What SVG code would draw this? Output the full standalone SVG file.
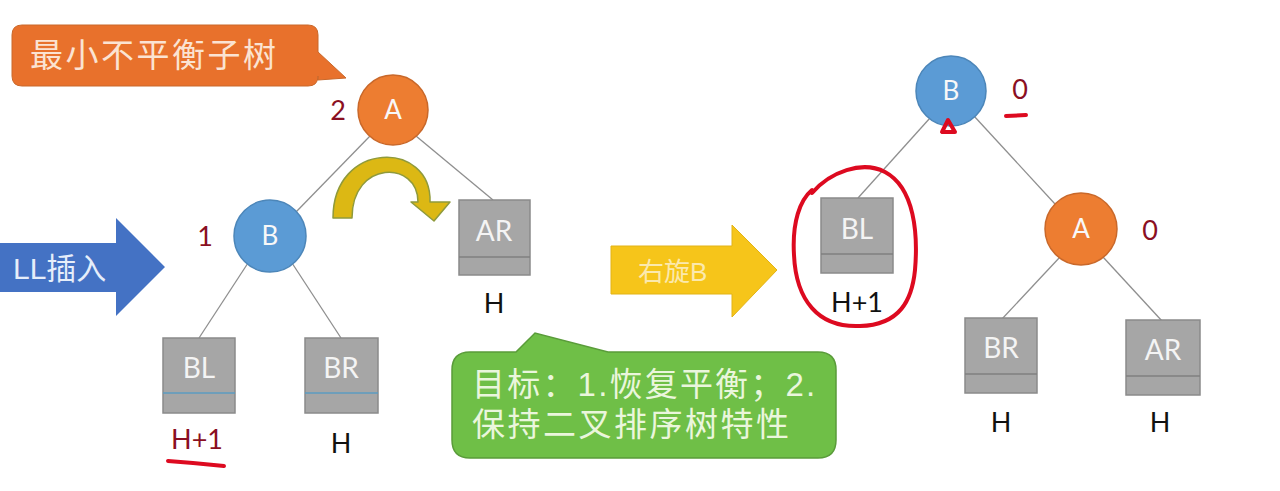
<svg xmlns="http://www.w3.org/2000/svg" width="1280" height="491" viewBox="0 0 1280 491">
  <defs>
    <style>
      .edge { stroke: #8f8f8f; stroke-width: 1.3; fill: none; }
      .box { fill: #a6a6a6; stroke: #8a8a8a; stroke-width: 1.5; }
      .sep { stroke: #7f7f7f; stroke-width: 1.5; }
      .sepb { stroke: #5b9bc0; stroke-width: 1.5; }
      .boxlbl { font-family: Lato, "Liberation Sans", sans-serif; font-size: 28px; fill: #f4f4f4; text-anchor: middle; }
      .nodelbl { font-family: Lato, "Liberation Sans", sans-serif; font-size: 26px; fill: #f8f8f8; text-anchor: middle; }
      .h { font-family: Lato, "Liberation Sans", sans-serif; font-size: 27px; fill: #111; text-anchor: middle; }
      .bf { font-family: Lato, "Liberation Sans", sans-serif; font-size: 27px; fill: #8a0f22; text-anchor: middle; }
      .cjk { font-family: "Liberation Sans", "Noto Sans CJK SC", sans-serif; }
      .orange { fill: #ed7d31; stroke: #c9682a; stroke-width: 1.5; }
      .blue { fill: #5b9bd5; stroke: #4c86b9; stroke-width: 1.5; }
      .ink { stroke: #dd0a20; stroke-width: 4; fill: none; stroke-linecap: round; stroke-linejoin: round; }
    </style>
  </defs>
  <rect width="1280" height="491" fill="#ffffff"/>

  <g id="connectors">
    <line class="edge" x1="370" y1="136" x2="296" y2="212"/>
    <line class="edge" x1="416" y1="136" x2="493" y2="200"/>
    <line class="edge" x1="248" y1="263" x2="199" y2="338"/>
    <line class="edge" x1="292" y1="263" x2="341" y2="338"/>
    <line class="edge" x1="930" y1="118" x2="858" y2="198"/>
    <line class="edge" x1="974" y1="116" x2="1055" y2="204"/>
    <line class="edge" x1="1060" y1="257" x2="1002" y2="319"/>
    <line class="edge" x1="1103" y1="257" x2="1162" y2="321"/>
  </g>

  <g id="callout-min">
    <path d="M22,25 H308 Q318,25 318,35 V52 L346,78 L318,80 V76 Q318,86 308,86 H22 Q12,86 12,76 V35 Q12,25 22,25 Z" fill="#e8712c" stroke="#c9682a" stroke-width="1"/>
    <text class="cjk" x="30" y="67" font-size="33" letter-spacing="2.5" fill="#fbe3d2">最小不平衡子树</text>
  </g>

  <g id="arrow-LL">
    <polygon points="0,243 116,243 116,218 165,267 116,316 116,292 0,292" fill="#4472c4"/>
    <text class="cjk" x="13" y="279" font-size="30" fill="#e6eefa">LL插入</text>
  </g>

  <g id="node-A1">
    <circle class="orange" cx="393" cy="110" r="35"/>
    <text class="nodelbl" x="393" y="119">A</text>
    <text class="bf" x="338" y="120">2</text>
  </g>

  <g id="node-B1">
    <circle class="blue" cx="270" cy="236" r="36"/>
    <text class="nodelbl" x="270" y="245">B</text>
    <text class="bf" x="205" y="246">1</text>
  </g>

  <g id="rotate-arrow">
    <path d="M333,218 C333,140 432,140 430,202 L450,202 L434,221 L411,202 L418,202 C418,160 352,160 352,218 Z" fill="#dcb814" stroke="#8f9a3c" stroke-width="1.5" stroke-linejoin="round"/>
  </g>

  <g id="box-AR1">
    <rect class="box" x="459" y="200" width="71" height="75"/>
    <line class="sep" x1="459" y1="257" x2="530" y2="257"/>
    <text class="boxlbl" x="494" y="241">AR</text>
    <text class="h" x="494" y="313">H</text>
  </g>

  <g id="box-BL1">
    <rect class="box" x="163" y="338" width="72" height="75"/>
    <line class="sepb" x1="163" y1="393" x2="235" y2="393"/>
    <text class="boxlbl" x="199" y="378">BL</text>
    <text class="bf" x="197" y="449">H+1</text>
    <path class="ink" d="M168,461 Q196,463 224,466"/>
  </g>

  <g id="box-BR1">
    <rect class="box" x="305" y="338" width="73" height="75"/>
    <line class="sepb" x1="305" y1="393" x2="378" y2="393"/>
    <text class="boxlbl" x="341" y="378">BR</text>
    <text class="h" x="341" y="453">H</text>
  </g>

  <g id="callout-goal">
    <path d="M470,352 H516 L535,333 L608,352 H818 Q836,352 836,370 V440 Q836,458 818,458 H470 Q452,458 452,440 V370 Q452,352 470,352 Z" fill="#6fbf47" stroke="#5a9c3a" stroke-width="1.5"/>
    <text class="cjk" x="472" y="396" font-size="33" letter-spacing="2.2" fill="#eaf6dc">目标：1.恢复平衡；2.</text>
    <text class="cjk" x="472" y="436" font-size="33" letter-spacing="2.5" fill="#eaf6dc">保持二叉排序树特性</text>
  </g>

  <g id="arrow-rotate">
    <polygon points="611,246 732,246 732,225 777,270 732,317 732,294 611,294" fill="#f6c51a" stroke="#e2b316" stroke-width="1"/>
    <text class="cjk" x="638" y="281" font-size="26" fill="#fbe9ad">右旋B</text>
  </g>

  <g id="node-B2">
    <circle class="blue" cx="951" cy="91" r="35"/>
    <text class="nodelbl" x="951" y="100">B</text>
    <text class="bf" x="1020" y="99">0</text>
    <path class="ink" d="M1006,116 L1026,115"/>
    <path class="ink" d="M948,120 L942,132 L955,132 Z" stroke-width="3.5"/>
  </g>

  <g id="box-BL2">
    <rect class="box" x="821" y="198" width="72" height="75"/>
    <line class="sep" x1="821" y1="254" x2="893" y2="254"/>
    <text class="boxlbl" x="857" y="239">BL</text>
    <text class="h" x="857" y="312">H+1</text>
    <path class="ink" d="M812,193 C830,172 862,160 885,172 C915,188 918,235 915,270 C912,300 900,325 860,326 C818,328 796,300 794,255 C792,222 800,200 812,190" stroke-width="3.5"/>
  </g>

  <g id="node-A2">
    <circle class="orange" cx="1081" cy="229" r="36"/>
    <text class="nodelbl" x="1081" y="238">A</text>
    <text class="bf" x="1150" y="240">0</text>
  </g>

  <g id="box-BR2">
    <rect class="box" x="965" y="318" width="72" height="75"/>
    <line class="sep" x1="965" y1="374" x2="1037" y2="374"/>
    <text class="boxlbl" x="1001" y="358">BR</text>
    <text class="h" x="1001" y="432">H</text>
  </g>

  <g id="box-AR2">
    <rect class="box" x="1126" y="320" width="74" height="75"/>
    <line class="sep" x1="1126" y1="376" x2="1200" y2="376"/>
    <text class="boxlbl" x="1163" y="360">AR</text>
    <text class="h" x="1160" y="432">H</text>
  </g>
</svg>
